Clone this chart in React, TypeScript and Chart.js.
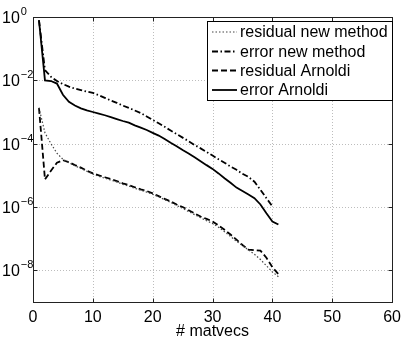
import React, { useEffect, useRef } from "react";
import { Chart, registerables } from "chart.js";

Chart.register(...registerables);

const matvecs = [1, 2, 3, 4, 5, 6, 7, 8, 9, 10, 11, 12, 13, 14, 15, 16, 17, 18, 19, 20, 21, 22, 23, 24, 25, 26, 27, 28, 29, 30, 31, 32, 33, 34, 35, 36, 37, 38, 39, 40, 41];

const residualNew = [1.35e-3, 2.2e-4, 1.0e-4, 5.0e-5, 3.2e-5, 2.5e-5, 2.0e-5, 1.65e-5, 1.35e-5, 1.1e-5, 9.3e-6, 8.1e-6, 7.1e-6, 6.2e-6, 5.2e-6, 4.6e-6, 3.9e-6, 3.4e-6, 2.95e-6, 2.5e-6, 2.1e-6, 1.7e-6, 1.4e-6, 1.12e-6, 9.1e-7, 7.2e-7, 5.75e-7, 4.6e-7, 3.7e-7, 3.0e-7, 2.3e-7, 1.66e-7, 1.17e-7, 8.3e-8, 6.0e-8, 4.4e-8, 3.2e-8, 2.2e-8, 1.4e-8, 8.9e-9, 6.3e-9];

const errorNew = [0.79, 2.1e-2, 1.3e-2, 9.5e-3, 7.6e-3, 6.3e-3, 5.5e-3, 4.9e-3, 4.4e-3, 4.0e-3, 3.4e-3, 2.8e-3, 2.3e-3, 1.95e-3, 1.6e-3, 1.35e-3, 1.12e-3, 9.3e-4, 7.2e-4, 5.6e-4, 4.4e-4, 3.4e-4, 2.6e-4, 2.0e-4, 1.55e-4, 1.2e-4, 9.1e-5, 7.1e-5, 5.5e-5, 4.2e-5, 3.2e-5, 2.5e-5, 1.9e-5, 1.5e-5, 1.12e-5, 8.9e-6, 6.3e-6, 3.5e-6, 1.9e-6, 1.05e-6];

const residualArnoldi = [1.35e-3, 7.4e-6, 1.4e-5, 2.5e-5, 3.0e-5, 2.6e-5, 2.1e-5, 1.75e-5, 1.4e-5, 1.15e-5, 1.0e-5, 8.7e-6, 7.6e-6, 6.6e-6, 5.6e-6, 4.9e-6, 4.2e-6, 3.6e-6, 3.2e-6, 2.7e-6, 2.2e-6, 1.8e-6, 1.5e-6, 1.2e-6, 1.0e-6, 7.9e-7, 6.3e-7, 5.0e-7, 4.2e-7, 3.5e-7, 2.6e-7, 1.9e-7, 1.35e-7, 9.3e-8, 6.3e-8, 4.5e-8, 4.3e-8, 4.2e-8, 2.5e-8, 1.26e-8, 7.6e-9];

const errorArnoldi = [0.79, 1.0e-2, 9.5e-3, 7.9e-3, 3.5e-3, 2.1e-3, 1.6e-3, 1.3e-3, 1.12e-3, 1.0e-3, 8.9e-4, 7.9e-4, 6.9e-4, 6.0e-4, 5.2e-4, 4.6e-4, 3.8e-4, 3.2e-4, 2.7e-4, 2.2e-4, 1.8e-4, 1.4e-4, 1.07e-4, 8.3e-5, 6.3e-5, 4.9e-5, 3.7e-5, 2.8e-5, 2.1e-5, 1.6e-5, 1.15e-5, 8.1e-6, 5.8e-6, 4.1e-6, 3.2e-6, 2.5e-6, 1.9e-6, 1.2e-6, 6.3e-7, 3.5e-7, 2.8e-7];

const xTicks = [0, 10, 20, 30, 40, 50, 60];
const yTickValues = [1e0, 1e-2, 1e-4, 1e-6, 1e-8];
const yTickExponents = ["0", "\u22122", "\u22124", "\u22126", "\u22128"];
const seriesLabels = ["residual new method", "error new method", "residual Arnoldi", "error Arnoldi"];
const xTitle = "# matvecs";

const FONT = '"Liberation Sans", Arial, Helvetica, sans-serif';

const styles = [
  { dash: [1.5, 2], width: 1.2, color: "#444" },
  { dash: [6, 2.5, 1.5, 2.5], width: 1.8, color: "#000" },
  { dash: [6, 3], width: 1.8, color: "#000" },
  { dash: [], width: 1.8, color: "#000" },
];

const pts = (arr: number[]) => arr.map((y, i) => ({ x: matvecs[i], y }));

const framePlugin = {
  id: "matlabFrame",
  beforeDatasetsDraw(chart: any) {
    const { ctx, chartArea: a, scales } = chart;
    const x = scales.x;
    const y = scales.y;
    ctx.save();
    ctx.strokeStyle = "#bdbdbd";
    ctx.lineWidth = 1;
    ctx.setLineDash([1, 2]);
    for (const v of xTicks) {
      const px = Math.round(x.getPixelForValue(v)) + 0.5;
      if (px <= a.left + 1 || px >= a.right - 1) continue;
      ctx.beginPath();
      ctx.moveTo(px, a.top);
      ctx.lineTo(px, a.bottom);
      ctx.stroke();
    }
    for (const v of yTickValues) {
      const py = Math.round(y.getPixelForValue(v)) + 0.5;
      if (py <= a.top + 1 || py >= a.bottom - 1) continue;
      ctx.beginPath();
      ctx.moveTo(a.left, py);
      ctx.lineTo(a.right, py);
      ctx.stroke();
    }
    ctx.restore();
  },
  afterDatasetsDraw(chart: any) {
    const { ctx, chartArea: a, scales } = chart;
    const x = scales.x;
    const y = scales.y;
    ctx.save();
    ctx.setLineDash([]);
    ctx.strokeStyle = "#222";
    ctx.lineWidth = 1;
    const L = Math.round(a.left) + 0.5;
    const R = Math.round(a.right) + 0.5;
    const T = Math.round(a.top) + 0.5;
    const B = Math.round(a.bottom) + 0.5;
    ctx.strokeRect(L, T, R - L, B - T);
    const tl = 4;
    ctx.beginPath();
    for (const v of xTicks) {
      const px = Math.round(x.getPixelForValue(v)) + 0.5;
      ctx.moveTo(px, B);
      ctx.lineTo(px, B - tl);
      ctx.moveTo(px, T);
      ctx.lineTo(px, T + tl);
    }
    for (const v of yTickValues) {
      const py = Math.round(y.getPixelForValue(v)) + 0.5;
      ctx.moveTo(L, py);
      ctx.lineTo(L + tl, py);
      ctx.moveTo(R, py);
      ctx.lineTo(R - tl, py);
    }
    ctx.stroke();

    ctx.fillStyle = "#000";
    ctx.textBaseline = "alphabetic";
    ctx.textAlign = "left";
    yTickValues.forEach((v, i) => {
      const py = y.getPixelForValue(v);
      ctx.font = `16px ${FONT}`;
      ctx.fillText("10", 2, py + 6);
      const w = ctx.measureText("10").width;
      ctx.font = `11px ${FONT}`;
      ctx.fillText(yTickExponents[i], 2 + w + 1, py - 2);
    });

    const bx = 207.5, by = 21.5, bw = 185, bh = 79;
    ctx.fillStyle = "#fff";
    ctx.fillRect(bx, by, bw, bh);
    ctx.strokeStyle = "#000";
    ctx.lineWidth = 1;
    ctx.strokeRect(bx, by, bw, bh);
    const rows = [32, 51.5, 70.5, 90];
    ctx.font = `16px ${FONT}`;
    ctx.textBaseline = "middle";
    chart.data.datasets.forEach((ds: any, i: number) => {
      const ry = rows[i];
      ctx.save();
      ctx.strokeStyle = ds.borderColor;
      ctx.lineWidth = ds.borderWidth;
      ctx.setLineDash(ds.borderDash || []);
      ctx.beginPath();
      ctx.moveTo(212, ry);
      ctx.lineTo(237, ry);
      ctx.stroke();
      ctx.restore();
      ctx.fillStyle = "#000";
      ctx.fillText(ds.label, 240, ry + 1);
    });
    ctx.restore();
  },
};

export default function App() {
  const ref = useRef<HTMLCanvasElement | null>(null);
  useEffect(() => {
    document.body.style.margin = "0";
    const canvas = ref.current;
    if (!canvas) return;
    const series = [residualNew, errorNew, residualArnoldi, errorArnoldi];
    const chart = new Chart(canvas, {
      type: "line",
      data: {
        datasets: series.map((arr, i) => ({
          label: seriesLabels[i],
          data: pts(arr),
          borderColor: styles[i].color,
          borderWidth: styles[i].width,
          borderDash: styles[i].dash,
          pointRadius: 0,
          fill: false,
          tension: 0,
        })),
      },
      options: {
        animation: false,
        responsive: false,
        maintainAspectRatio: false,
        devicePixelRatio: 1,
        layout: { padding: { left: 0, top: 17, right: 12, bottom: 0 } },
        plugins: { legend: { display: false }, tooltip: { enabled: false } },
        scales: {
          x: {
            type: "linear",
            min: 0,
            max: 60,
            grid: { display: false, drawTicks: false },
            border: { display: false },
            afterBuildTicks: (s: any) => {
              s.ticks = xTicks.map((v) => ({ value: v }));
            },
            afterFit: (s: any) => {
              s.height = 39;
            },
            ticks: {
              color: "#000",
              font: { family: FONT, size: 16 },
              padding: 6,
              maxRotation: 0,
              autoSkip: false,
            },
            title: {
              display: true,
              text: xTitle,
              color: "#000",
              font: { family: FONT, size: 16 },
              padding: { top: -3, bottom: 0 },
            },
          },
          y: {
            type: "logarithmic",
            min: 1e-9,
            max: 1,
            grid: { display: false, drawTicks: false },
            border: { display: false },
            afterBuildTicks: (s: any) => {
              s.ticks = yTickValues.map((v) => ({ value: v }));
            },
            afterFit: (s: any) => {
              s.width = 33;
            },
            ticks: { display: false },
          },
        },
      },
      plugins: [framePlugin],
    });
    return () => chart.destroy();
  }, []);
  return (
    <div style={{ position: "absolute", left: 0, top: 0, width: 407, height: 341, background: "#fff" }}>
      <canvas ref={ref} width={407} height={341} style={{ width: 407, height: 341, display: "block" }} />
    </div>
  );
}
